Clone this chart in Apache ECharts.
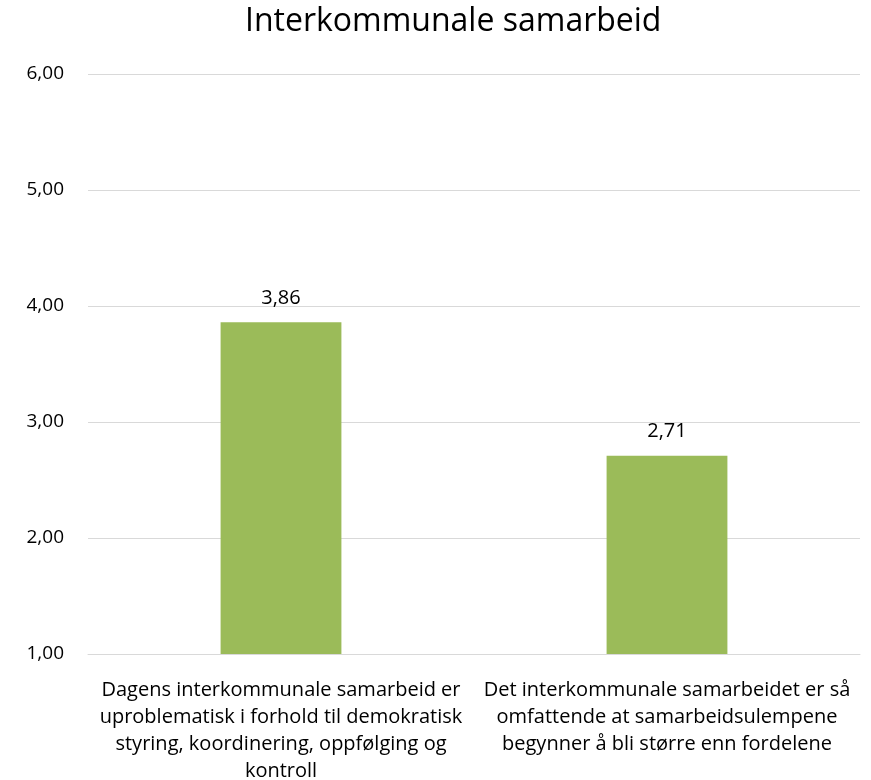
<!DOCTYPE html>
<html>
<head>
<meta charset="utf-8">
<script src="https://cdn.jsdelivr.net/npm/echarts@6/dist/echarts.min.js"></script>
<style>
  html, body { margin: 0; padding: 0; background: #ffffff; }
  #chart { width: 871px; height: 780px; }
</style>
</head>
<body>
<div id="chart"></div>
<script>
// Statements (category axis) and their mean scores
const categories = [
  'Dagens interkommunale samarbeid er\nuproblematisk i forhold til demokratisk\nstyring, koordinering, oppfølging og\nkontroll',
  'Det interkommunale samarbeidet er så\nomfattende at samarbeidsulempene\nbegynner å bli større enn fordelene'
];
const values = [3.86, 2.71];
const yTicks = { min: 1, max: 6, step: 1 };

const fmt = v => v.toFixed(2).replace('.', ',');
const fontFamily = '"Open Sans", "Liberation Sans", sans-serif';

const chart = echarts.init(document.getElementById('chart'), null, { renderer: 'canvas' });
chart.setOption({
  animation: false,
  backgroundColor: '#ffffff',
  title: {
    text: 'Interkommunale samarbeid',
    left: 240,
    top: 1,
    textStyle: { fontFamily, fontSize: 32, fontWeight: 'normal', color: '#000000' }
  },
  grid: { left: 88, right: 11, top: 74, bottom: 126, containLabel: false, outerBoundsMode: 'none' },
  xAxis: {
    type: 'category',
    data: categories,
    axisLine: { show: true, lineStyle: { color: '#d9d9d9' } },
    axisTick: { show: false },
    axisLabel: {
      interval: 0,
      margin: 23,
      fontFamily, fontSize: 20, color: '#000000', lineHeight: 27, align: 'center'
    }
  },
  yAxis: {
    type: 'value',
    min: yTicks.min, max: yTicks.max, interval: yTicks.step,
    axisLine: { show: false },
    axisTick: { show: false },
    splitLine: { lineStyle: { color: '#d9d9d9', width: 1 } },
    axisLabel: {
      margin: 24,
      fontFamily, fontSize: 19, color: '#000000',
      formatter: fmt
    }
  },
  series: [{
    type: 'bar',
    data: values,
    barWidth: '31.3%',
    itemStyle: { color: '#9bbb59' },
    label: {
      show: true,
      position: 'top',
      distance: 14,
      fontFamily, fontSize: 20, color: '#000000',
      formatter: p => fmt(p.value)
    }
  }]
});
</script>
</body>
</html>
